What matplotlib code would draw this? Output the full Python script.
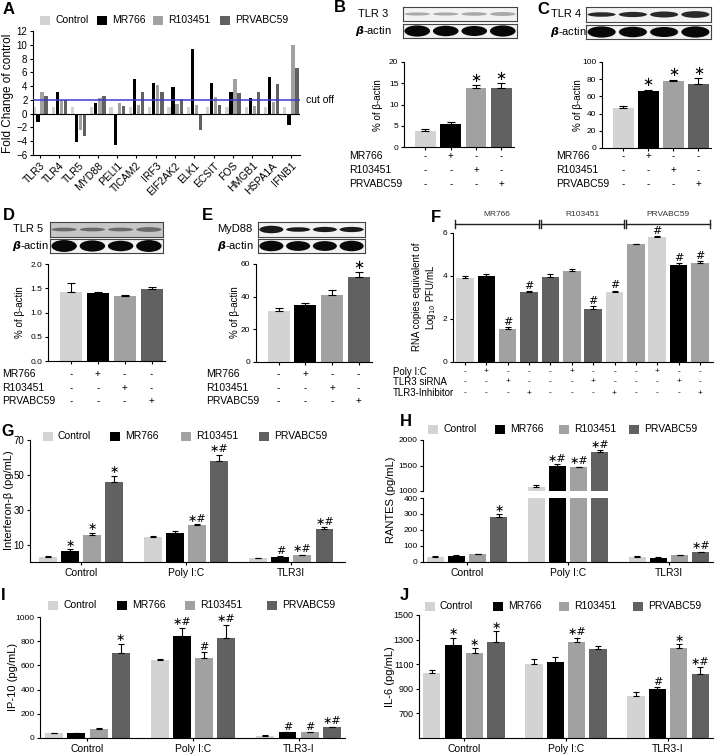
import numpy as np
import matplotlib
matplotlib.use('Agg')
import matplotlib.pyplot as plt
from matplotlib.patches import Ellipse, Rectangle
from matplotlib.transforms import blended_transform_factory

plt.rcParams['font.family'] = ['Liberation Sans', 'DejaVu Sans']
SYM = ['DejaVu Sans']

# ---- data -------------------------------------------------------------
series = ['Control', 'MR766', 'R103451', 'PRVABC59']
colors = ['#d3d3d3', '#000000', '#a1a1a1', '#616161']

# A: fold change of control
genes = ['TLR3', 'TLR4', 'TLR5', 'MYD88', 'PELI1', 'TICAM2', 'IRF3', 'EIF2AK2',
         'ELK1', 'ECSIT', 'FOS', 'HMGB1', 'HSPA1A', 'IFNB1']
a_ctrl = [1, 1, 1, 1, 1, 1, 1, 1, 1, 1, 1, 1, 1, 1]
a_mr = [-1.2, 3.1, -4.1, 1.6, -4.6, 5.0, 4.4, 3.8, 9.4, 4.4, 3.2, 2.3, 5.3, -1.6]
a_r1 = [3.2, 2.0, -2.3, 2.3, 1.5, 1.3, 4.1, 1.4, 1.3, 2.4, 5.0, 1.1, 1.7, 9.9]
a_prv = [2.6, 2.0, -3.2, 2.6, 1.1, 3.1, 3.2, 2.1, -2.3, 1.2, 3.0, 3.2, 4.3, 6.6]
cutoff = 2

# B-E: western blot quantification (% of beta-actin)
b_mean = [3.8, 5.4, 13.9, 13.9]
b_err = [0.4, 0.5, 0.6, 1.1]
b_sig = ['', '', '∗', '∗']
c_mean = [46, 66, 77.5, 75]
c_err = [3, 2, 2, 6]
c_sig = ['', '∗', '∗', '∗']
d_mean = [1.43, 1.40, 1.33, 1.48]
d_err = [0.18, 0.03, 0.03, 0.05]
d_sig = ['', '', '', '']
e_mean = [31.5, 35, 41, 52]
e_err = [1.5, 1, 3, 3]
e_sig = ['', '', '', '∗']
virus_rows = ['MR766', 'R103451', 'PRVABC59']

# F: RNA copies
f_mean = [3.9, 4.0, 1.55, 3.25, 3.95, 4.25, 2.45, 3.25, 5.47, 5.82, 4.5, 4.62]
f_err = [0.1, 0.1, 0.08, 0.05, 0.12, 0.06, 0.15, 0.06, 0.03, 0.02, 0.1, 0.06]
f_sig = ['', '', '#', '#', '', '', '#', '#', '', '#', '#', '#']
f_groups = ['MR766', 'R103451', 'PRVABC59']
f_rows = ['Poly I:C', 'TLR3 siRNA', 'TLR3-Inhibitor']
f_poly = ['-', '+', '-', '-', '-', '+', '-', '-', '-', '+', '-', '-']
f_sirna = ['-', '-', '+', '-', '-', '-', '+', '-', '-', '-', '+', '-']
f_inhib = ['-', '-', '-', '+', '-', '-', '-', '+', '-', '-', '-', '+']

# G-J: cytokines, rows = series, columns = treatment
g_groups = ['Control', 'Poly I:C', 'TLR3I']
g_mean = [[3.0, 14.3, 2.3], [6.2, 16.7, 2.9], [15.3, 21.2, 3.8], [46, 58, 18.8]]
g_err = [[0.3, 0.4, 0.2], [1.3, 1.2, 0.3], [1.4, 0.4, 0.5], [3.5, 3.5, 1.0]]
g_sig = [['', '', ''], ['∗', '', '#'], ['∗', '∗#', '∗#'], ['∗', '∗#', '∗#']]

h_groups = ['Control', 'Poly I:C', 'TLR3I']
h_mean = [[33, 1080, 33], [40, 1495, 27], [50, 1465, 42], [280, 1770, 60]]
h_err = [[4, 35, 3], [3, 25, 2], [3, 12, 3], [18, 28, 4]]
h_sig = [['', '', ''], ['', '∗#', ''], ['', '∗#', ''], ['∗', '∗#', '∗#']]

i_groups = ['Control', 'Poly I:C', 'TLR3-I']
i_mean = [[38, 645, 15], [42, 840, 46], [75, 662, 46], [705, 830, 88]]
i_err = [[5, 12, 10], [3, 70, 4], [6, 45, 4], [75, 105, 7]]
i_sig = [['', '', ''], ['', '∗#', '#'], ['', '#', '#'], ['∗', '∗#', '∗#']]

j_groups = ['Control', 'Poly I:C', 'TLR3-I']
j_mean = [[1031, 1104, 840], [1253, 1117, 902], [1188, 1284, 1229], [1280, 1221, 1022]]
j_err = [[25, 40, 35], [62, 40, 11], [40, 32, 33], [90, 27, 54]]
j_sig = [['', '', ''], ['∗', '', '#'], ['∗', '∗#', '∗'], ['∗', '', '∗#']]

# ---- figure helpers ---------------------------------------------------
W, H = 716, 754
fig = plt.figure(figsize=(W / 100, H / 100), dpi=100)
fig.patch.set_facecolor('white')


def box(x0, y0, x1, y1):
    # pixel box (top-left origin) -> figure fraction rect
    return [x0 / W, 1 - y1 / H, (x1 - x0) / W, (y1 - y0) / H]


ov = fig.add_axes([0, 0, 1, 1], zorder=10)
ov.set_xlim(0, W)
ov.set_ylim(H, 0)
ov.axis('off')
ov.patch.set_alpha(0)


def style(ax, size=6):
    ax.spines[['top', 'right']].set_visible(False)
    for s in ['left', 'bottom']:
        ax.spines[s].set_linewidth(0.8)
    ax.tick_params(direction='out', length=2.5, width=0.8, labelsize=size, pad=1.5)
    ax.patch.set_alpha(0)


def letter(x, y, s, size=12):
    ov.text(x, y, s, fontsize=size, fontweight='bold', va='center', ha='left')


def ylab(x, y, s, size=7.5):
    ov.text(x, y, s, rotation=90, ha='center', va='center', fontsize=size)


def legend_row(y, xs, size=7.5):
    for x, name, c in zip(xs, series, colors):
        ov.add_patch(Rectangle((x, y - 4.5), 10, 9, color=c, lw=0))
        ov.text(x + 15, y, name, va='center', ha='left', fontsize=size)


def mark(ax, x, top, s, size=8):
    ax.annotate(s, (x, top), xytext=(0, 0.3), textcoords='offset points',
                ha='center', va='bottom', fontsize=size, family=SYM)


def blot(x0, y0, x1, y1, heights, color, bg='#f2f2f2'):
    ax = fig.add_axes(box(x0, y0, x1, y1))
    ax.set_xlim(0, 4)
    ax.set_ylim(0, 1)
    ax.set_xticks([])
    ax.set_yticks([])
    ax.set_facecolor(bg)
    for s in ax.spines.values():
        s.set_linewidth(0.8)
        s.set_color('#444444')
    for i, h in enumerate(heights):
        ax.add_patch(Ellipse((i + 0.5, 0.5), 0.9, h, color=color, lw=0))


def small_bars(px, mean, err, sig, ylim, yticks, rows_y, label_x, ticklabels=None):
    ax = fig.add_axes(box(*px))
    style(ax)
    x = np.arange(4)
    ax.bar(x, mean, 0.82, color=colors, zorder=2)
    ax.errorbar(x, mean, yerr=[np.zeros(4), err], fmt='none', ecolor='k',
                elinewidth=0.8, capsize=3, capthick=0.8, zorder=3)
    for xi, m, e, s in zip(x, mean, err, sig):
        if s:
            mark(ax, xi, m + e, s, 9.5)
    ax.set_xlim(-0.85, 3.5)
    ax.set_ylim(*ylim)
    ax.set_yticks(yticks)
    if ticklabels:
        ax.set_yticklabels(ticklabels)
    ax.set_xticks(x)
    ax.set_xticklabels([])
    tr = blended_transform_factory(ax.transData, ov.transData)
    for r, (name, y) in enumerate(zip(virus_rows, rows_y)):
        ov.text(label_x, y, name, va='center', ha='left', fontsize=7.5)
        for xi in x:
            ov.text(xi, y, '+' if xi == r + 1 else '-', transform=tr,
                    ha='center', va='center', fontsize=7)
    return ax


def grouped(ax, mean, err, step=0.21, width=0.17):
    x = np.arange(3)
    for k in range(4):
        pos = x + (k - 1.5) * step
        ax.bar(pos, mean[k], width, color=colors[k], zorder=2)
        ax.errorbar(pos, mean[k], yerr=[np.zeros(3), err[k]], fmt='none', ecolor='k',
                    elinewidth=0.8, capsize=2.5, capthick=0.8, zorder=3)


def grouped_sig(ax, mean, err, sig, step=0.21, keep=lambda v: True):
    x = np.arange(3)
    for k in range(4):
        pos = x + (k - 1.5) * step
        for p, m, e, s in zip(pos, mean[k], err[k], sig[k]):
            if s and keep(m):
                mark(ax, p, m + e, s)


# ---- A ----------------------------------------------------------------
letter(3, 9, 'A')
legend_row(20, [40, 97, 153, 220])
axA = fig.add_axes(box(33, 31, 300, 155))
style(axA, 7)
xg = np.arange(len(genes))
for k, vals in enumerate([a_ctrl, a_mr, a_r1, a_prv]):
    axA.bar(xg + (k - 1.5) * 0.21, vals, 0.17, color=colors[k], zorder=2)
axA.axhline(0, color='k', lw=0.8, zorder=3)
axA.axhline(cutoff, color='#3c3cd2', lw=1.1, zorder=4)
axA.text(13.8, cutoff, 'cut off', va='center', ha='left', fontsize=7.5, clip_on=False)
axA.set_xlim(-0.36, 13.47)
axA.set_ylim(-6, 12)
axA.set_yticks(range(-6, 13, 2))
axA.set_xticks(xg)
axA.set_xticklabels(genes, rotation=45, ha='right', rotation_mode='anchor', fontsize=7.5)
ylab(8, 93, 'Fold Change of control', 8.5)

# ---- B ----------------------------------------------------------------
letter(334, 8, 'B')
blot(403, 7, 517, 21, [0.22, 0.22, 0.25, 0.28], '#a8a8a8')
blot(403, 24, 517, 38, [0.8, 0.75, 0.72, 0.8], '#080808')
ov.text(358, 14, 'TLR 3', va='center', fontsize=8)
ov.text(355, 31, r'$\boldsymbol{\beta}$-actin', va='center', fontsize=8)
small_bars((404, 62, 514, 147), b_mean, b_err, b_sig, (0, 20), [0, 5, 10, 15, 20],
           [156, 170, 184], 349)
ylab(378, 105, '% of β-actin', 7)

# ---- C ----------------------------------------------------------------
letter(537, 10, 'C')
blot(586, 7, 711, 22, [0.3, 0.35, 0.4, 0.45], '#2a2a2a')
blot(586, 25, 711, 39, [0.8, 0.75, 0.72, 0.8], '#080808')
ov.text(551, 14, 'TLR 4', va='center', fontsize=8)
ov.text(550, 32, r'$\boldsymbol{\beta}$-actin', va='center', fontsize=8)
small_bars((602, 62, 711, 148), c_mean, c_err, c_sig, (0, 100), [0, 20, 40, 60, 80, 100],
           [156, 170, 184], 556)
ylab(578, 105, '% of β-actin', 7)

# ---- D ----------------------------------------------------------------
letter(3, 215, 'D')
blot(50, 222, 163, 237, [0.25, 0.25, 0.25, 0.32], '#6a6a6a', bg='#c6c6c6')
blot(50, 239, 163, 253, [0.85, 0.8, 0.75, 0.85], '#080808')
ov.text(13, 229, 'TLR 5', va='center', fontsize=8)
ov.text(12, 246, r'$\boldsymbol{\beta}$-actin', va='center', fontsize=8)
small_bars((48, 264, 165, 361), d_mean, d_err, d_sig, (0, 2.0), [0, 0.5, 1.0, 1.5, 2.0],
           [374, 388, 401], 2, ['0.0', '0.5', '1.0', '1.5', '2.0'])
ylab(20, 312, '% of β-actin', 7)

# ---- E ----------------------------------------------------------------
letter(202, 215, 'E')
blot(258, 222, 365, 237, [0.5, 0.3, 0.35, 0.35], '#1a1a1a')
blot(258, 239, 365, 253, [0.75, 0.7, 0.7, 0.75], '#080808')
ov.text(217, 229, 'MyD88', va='center', fontsize=8)
ov.text(217, 246, r'$\boldsymbol{\beta}$-actin', va='center', fontsize=8)
small_bars((256, 264, 372, 362), e_mean, e_err, e_sig, (0, 60), [0, 20, 40, 60],
           [374, 388, 401], 206)
ylab(235, 312, '% of β-actin', 7)

# ---- F ----------------------------------------------------------------
letter(431, 217, 'F')
axF = fig.add_axes(box(453, 233, 713, 362))
style(axF)
f_colors = [colors[i] for i in [0, 1, 2, 3, 3, 2, 3, 0, 2, 0, 1, 2]]
xf = np.arange(len(f_mean))
axF.bar(xf, f_mean, 0.82, color=f_colors, zorder=2)
axF.errorbar(xf, f_mean, yerr=[np.zeros(len(xf)), f_err], fmt='none', ecolor='k',
             elinewidth=0.8, capsize=2.5, capthick=0.8, zorder=3)
for xi, m, e, s in zip(xf, f_mean, f_err, f_sig):
    if s:
        mark(axF, xi, m + e, s, 8)
axF.set_xlim(-0.56, 11.61)
axF.set_ylim(0, 6)
axF.set_yticks([0, 2, 4, 6])
axF.set_xticks(xf)
axF.set_xticklabels([])
trF = blended_transform_factory(axF.transData, ov.transData)
for g, name in enumerate(f_groups):
    x0, x1 = g * 4 - 0.45, g * 4 + 3.45
    ov.plot([x0, x1], [224, 224], color='#222222', lw=1, transform=trF, clip_on=False)
    for xe in (x0, x1):
        ov.plot([xe, xe], [220, 228], color='#222222', lw=1, transform=trF, clip_on=False)
    ov.text((x0 + x1) / 2, 215, name, transform=trF, ha='center', va='center',
            fontsize=6, color='#333333')
for name, y, signs in zip(f_rows, [372, 382, 393], [f_poly, f_sirna, f_inhib]):
    ov.text(393, y, name, va='center', ha='left', fontsize=7)
    for xi, s in zip(xf, signs):
        ov.text(xi, y, s, transform=trF, ha='center', va='center', fontsize=6)
ov.text(425, 297, 'RNA copies equivalent of\nLog$_{10}$ PFU/mL', rotation=90,
        ha='center', va='center', fontsize=7, linespacing=1.1)

# ---- G ----------------------------------------------------------------
letter(1, 432, 'G', 11.5)
legend_row(436, [43, 110, 181, 259])
axG = fig.add_axes(box(30, 440, 345, 562))
style(axG, 7)
grouped(axG, g_mean, g_err)
grouped_sig(axG, g_mean, g_err, g_sig)
axG.set_xlim(-0.486, 2.51)
axG.set_ylim(0, 70)
axG.set_yticks([10, 30, 50, 70])
axG.set_xticks(range(3))
axG.set_xticklabels(g_groups, fontsize=7.5)
ylab(9, 500, 'Interferon-β (pg/mL)', 8)

# ---- H (broken axis) --------------------------------------------------
letter(400, 422, 'H')
legend_row(429, [428, 495, 559, 629])
axHu = fig.add_axes(box(423, 440, 713, 491))
axHl = fig.add_axes(box(423, 498, 713, 562))
for ax in (axHu, axHl):
    style(ax, 6)
    grouped(ax, h_mean, h_err)
    ax.set_xlim(-0.436, 2.436)
axHu.spines['bottom'].set_visible(False)
axHu.set_xticks([])
axHu.set_ylim(1000, 2000)
axHu.set_yticks([1000, 1500, 2000])
axHl.set_ylim(0, 400)
axHl.set_yticks([0, 100, 200, 300, 400])
grouped_sig(axHu, h_mean, h_err, h_sig, keep=lambda v: v > 400)
grouped_sig(axHl, h_mean, h_err, h_sig, keep=lambda v: v <= 400)
axHl.set_xticks(range(3))
axHl.set_xticklabels(h_groups, fontsize=7.5)
ylab(391, 500, 'RANTES (pg/mL)', 8)

# ---- I ----------------------------------------------------------------
letter(1, 595, 'I')
legend_row(605, [48, 117, 185, 267])
axI = fig.add_axes(box(40, 617, 345, 738))
style(axI, 6)
grouped(axI, i_mean, i_err)
grouped_sig(axI, i_mean, i_err, i_sig)
axI.set_xlim(-0.45, 2.44)
axI.set_ylim(0, 1000)
axI.set_yticks(range(0, 1001, 200))
axI.set_xticks(range(3))
axI.set_xticklabels(i_groups, fontsize=7.5)
ylab(13, 677, 'IP-10 (pg/mL)', 8)

# ---- J ----------------------------------------------------------------
letter(400, 595, 'J')
legend_row(606, [425, 493, 559, 633])
axJ = fig.add_axes(box(419, 615, 713, 738))
style(axJ, 6.5)
grouped(axJ, j_mean, j_err)
grouped_sig(axJ, j_mean, j_err, j_sig)
axJ.set_xlim(-0.44, 2.44)
axJ.set_ylim(500, 1500)
axJ.set_yticks([700, 900, 1100, 1300, 1500])
axJ.set_xticks(range(3))
axJ.set_xticklabels(j_groups, fontsize=7.5)
ylab(390, 677, 'IL-6 (pg/mL)', 8)

fig.savefig('out.png', dpi=100)
